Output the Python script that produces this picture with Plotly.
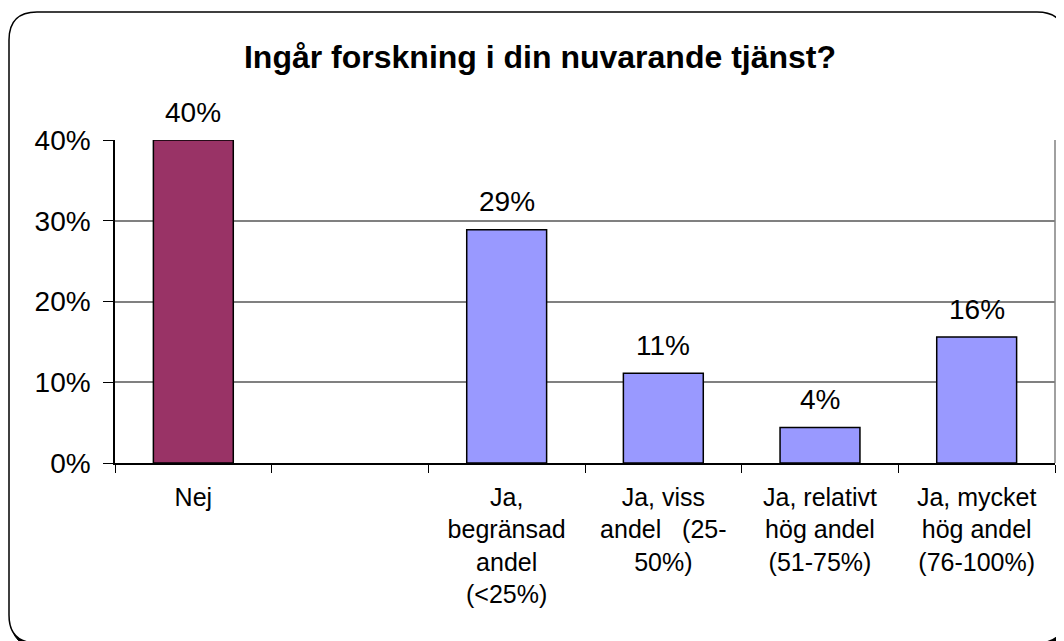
import plotly.graph_objects as go

categories = ["Nej", " ", "Ja,<br>begränsad<br>andel<br>(<25%)", "Ja, viss<br>andel\u00a0\u00a0\u00a0(25-<br>50%)",
              "Ja, relativt<br>hög andel<br>(51-75%)", "Ja, mycket<br>hög andel<br>(76-100%)"]
values = [40.0, None, 28.9, 11.1, 4.4, 15.6]
value_labels = ["40%", "", "29%", "11%", "4%", "16%"]
bar_colors = ["#993366", "#9999FF", "#9999FF", "#9999FF", "#9999FF", "#9999FF"]
y_ticks = [0, 10, 20, 30, 40]
title_text = "Ingår forskning i din nuvarande tjänst?"

# page is offset by the 8px body margin; work in page pixels, convert to figure pixels
OFF = 8
W, H = 1064 - OFF, 641 - OFF
L, R, T, B = 115 - OFF, 1055 - OFF, 140 - OFF, 463 - OFF
FONT = "Liberation Sans, Arial, sans-serif"

fig = go.Figure()
fig.add_trace(go.Bar(
    x=categories, y=values,
    marker=dict(color=bar_colors, line=dict(color="black", width=1.5)),
    width=0.51, showlegend=False, hoverinfo="skip",
))

annotations = []
for c, v, t in zip(categories, values, value_labels):
    if v is None:
        continue
    annotations.append(dict(x=c, y=v, xref="x", yref="y", text=t, showarrow=False,
                            yanchor="middle", yshift=28,
                            font=dict(family=FONT, size=28, color="black")))

def px_x(p):
    return (p - OFF - L) / (R - L)

def px_y(p):
    return (B - (p - OFF)) / (B - T)

def rounded_rect(x0, y0, x1, y1, r):
    pts = [
        f"M {px_x(x0 + r)},{px_y(y0)}",
        f"L {px_x(x1 - r)},{px_y(y0)}",
        f"Q {px_x(x1)},{px_y(y0)} {px_x(x1)},{px_y(y0 + r)}",
        f"L {px_x(x1)},{px_y(y1 - r)}",
        f"Q {px_x(x1)},{px_y(y1)} {px_x(x1 - r)},{px_y(y1)}",
        f"L {px_x(x0 + r)},{px_y(y1)}",
        f"Q {px_x(x0)},{px_y(y1)} {px_x(x0)},{px_y(y1 - r)}",
        f"L {px_x(x0)},{px_y(y0 + r)}",
        f"Q {px_x(x0)},{px_y(y0)} {px_x(x0 + r)},{px_y(y0)}",
        "Z",
    ]
    return " ".join(pts)

shapes = [
    # shadow
    dict(type="path", xref="paper", yref="paper", path=rounded_rect(11, 15, 1069, 647, 28),
         fillcolor="black", line=dict(color="black", width=1), layer="below"),
    # chart border
    dict(type="path", xref="paper", yref="paper", path=rounded_rect(9, 12, 1065, 643, 28),
         fillcolor="white", line=dict(color="black", width=1.5), layer="below"),
    # plot area right edge
    dict(type="line", xref="paper", yref="paper", x0=1, x1=1, y0=0, y1=1,
         line=dict(color="#808080", width=1.5), layer="below"),
]

fig.update_layout(
    width=W, height=H,
    margin=dict(l=L, r=W - R, t=T, b=H - B, pad=0),
    paper_bgcolor="white", plot_bgcolor="rgba(0,0,0,0)",
    title=dict(text="<b>" + title_text + "</b>", x=(540 - OFF) / W, xref="container", xanchor="center",
               y=1 - (57 - OFF) / H, yref="container", yanchor="middle",
               font=dict(family=FONT, size=32, color="black")),
    font=dict(family=FONT, color="black"),
    xaxis=dict(type="category", categoryorder="array", categoryarray=categories,
               range=[-0.5, 5.5], showline=True, linecolor="black", linewidth=1.5,
               ticks="outside", tickson="boundaries", ticklen=8, tickcolor="black", tickwidth=1,
               showgrid=False, tickangle=0, ticklabelstandoff=11,
               tickfont=dict(family=FONT, size=25, color="black")),
    yaxis=dict(range=[0, 40], tickvals=y_ticks, ticktext=[f"{v}%" for v in y_ticks],
               showline=True, linecolor="black", linewidth=1.5,
               ticks="outside", ticklen=10, tickcolor="black", tickwidth=1,
               showgrid=True, gridcolor="#808080", gridwidth=1.5, zeroline=False,
               ticklabelstandoff=7,
               tickfont=dict(family=FONT, size=28, color="black")),
    annotations=annotations,
    shapes=shapes,
    bargap=0.49,
)

fig.write_html("out.html")
